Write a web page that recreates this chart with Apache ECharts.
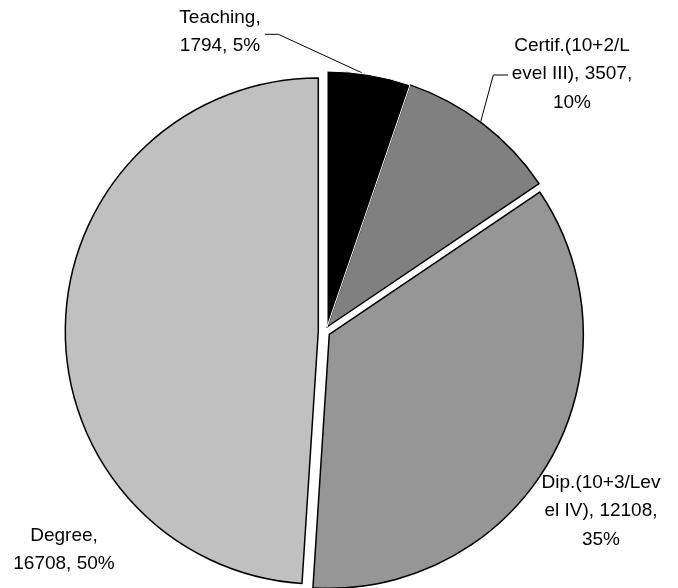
<!DOCTYPE html>
<html><head><meta charset="utf-8">
<script src="https://cdn.jsdelivr.net/npm/echarts@6/dist/echarts.min.js"></script>
<style>html,body{margin:0;padding:0;background:#fff}#c{width:678px;height:588px}</style>
</head><body><div id="c"></div><script>
// ---- data ----
const categories = ['Teaching', 'Certif.(10+2/Level III)', 'Dip.(10+3/Level IV)', 'Degree'];
const values = [1794, 3507, 12108, 16708];
const percentLabels = ['5%', '10%', '35%', '50%'];

// ---- layout / style ----
const wrappedNames = ['Teaching', 'Certif.(10+2/L\nevel III)', 'Dip.(10+3/Lev\nel IV)', 'Degree'];
const sepA = [',\n', ', ', ', ', ',\n'];
const sepB = [', ', ',\n', ',\n', ', '];
const colors = ['#000000', '#808080', '#969696', '#c0c0c0'];
const centers = [[327, 327], [327, 327], [329.3, 334.3], [318.3, 331]];
const radii = [256, 256, 254, 253];
const labelPos = [[220, 32], [572, 74], [601, 511], [64, 550]];
const leaderPts = [
  [[265, 34.3], [278.3, 34.3], [361.7, 72.7]],
  [[508, 75], [493.3, 75], [480.7, 121.7]],
  null, null
];
const drawOrder = [3, 2, 1, 0];

const chart = echarts.init(document.getElementById('c'), null, {renderer: 'canvas'});

const series = drawOrder.map((k, z) => ({
  type: 'pie',
  center: centers[k],
  radius: radii[k],
  startAngle: 90,
  clockwise: true,
  avoidLabelOverlap: false,
  silent: true,
  animation: false,
  z: 2 + z,
  emphasis: {disabled: true},
  label: {
    fontFamily: 'Liberation Sans, Arial, sans-serif',
    fontSize: 19,
    lineHeight: 28.5,
    color: '#000',
    align: 'center',
    formatter: p => wrappedNames[p.dataIndex] + sepA[p.dataIndex] + values[p.dataIndex] + sepB[p.dataIndex] + percentLabels[p.dataIndex]
  },
  labelLine: {lineStyle: {color: '#000', width: 1}},
  labelLayout: params => {
    const i = params.dataIndex;
    const o = {x: labelPos[i][0], y: labelPos[i][1], align: 'center', verticalAlign: 'middle'};
    if (leaderPts[i]) o.labelLinePoints = leaderPts[i];
    return o;
  },
  data: values.map((v, i) => ({
    name: categories[i],
    value: v,
    itemStyle: i === k
      ? {color: colors[i], borderColor: i === 0 ? '#ffffff' : '#000000', borderWidth: i === 0 ? 1 : 1.5}
      : {color: 'rgba(0,0,0,0)', borderWidth: 0},
    label: {show: i === k},
    labelLine: {show: i === k && leaderPts[i] !== null}
  }))
}));

chart.setOption({backgroundColor: '#ffffff', animation: false, series});
</script></body></html>
